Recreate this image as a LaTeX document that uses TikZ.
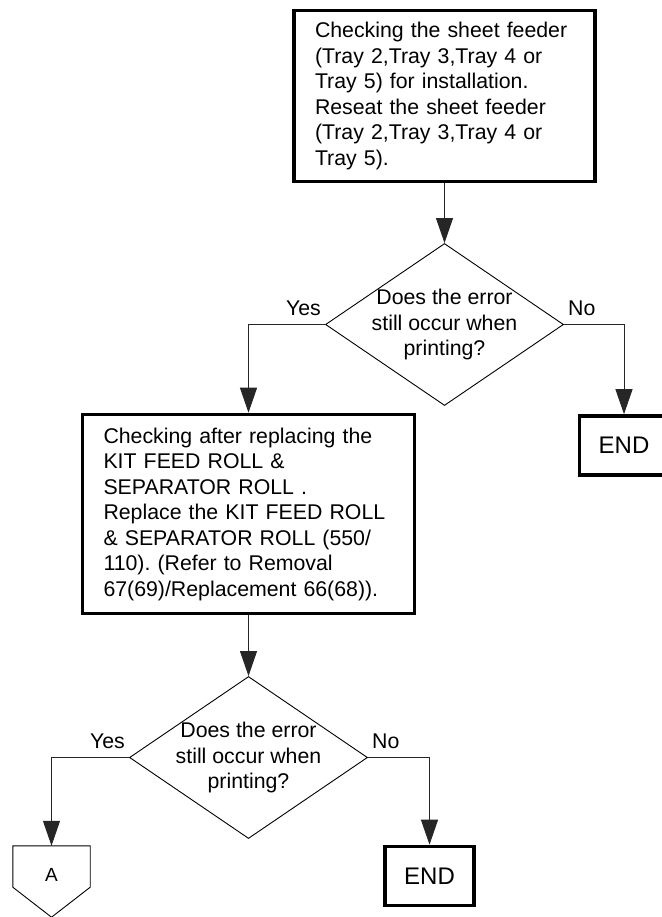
\documentclass[tikz,border=0pt]{standalone}
\usepackage{fontspec}
\setmainfont{Liberation Sans}
\usetikzlibrary{arrows.meta, shapes.geometric}
\frenchspacing
\definecolor{ink}{HTML}{000000}
\definecolor{wire}{HTML}{262626}
\tikzset{
  font=\fontsize{21.3}{25.5}\selectfont,
  procbox/.style={rectangle, draw=ink, line width=3.6pt, fill=white, align=left,
                  inner xsep=21pt, inner ysep=0pt},
  endbox/.style={rectangle, draw=ink, line width=3.6pt, fill=white, inner sep=0pt,
                 font=\fontsize{24}{28}\selectfont,
                 minimum width=89pt, minimum height=59pt},
  decision/.style={diamond, draw=ink, line width=0.9pt, inner sep=0pt,
                   minimum width=238pt, minimum height=162pt},
  asktext/.style={align=center, inner sep=0pt},
  offpage/.style={rectangle, inner sep=0pt, font=\fontsize{19}{22}\selectfont,
                  minimum width=77pt, minimum height=58pt},
  branch/.style={inner sep=0pt},
  flow/.style={-{Triangle[length=25pt, width=17pt]}, draw=wire, line width=1pt},
}

\begin{document}
\begin{tikzpicture}[x=1pt, y=-1pt]
\useasboundingbox (0,0) rectangle (661,917);

% --- checks and decisions ---
\node[procbox, text width=259pt, minimum height=171pt] (check1) at (444.5, 96)
  {Checking the sheet feeder\\ (Tray 2,Tray 3,Tray 4 or\\ Tray 5) for installation.\\
   Reseat the sheet feeder\\ (Tray 2,Tray 3,Tray 4 or\\ Tray 5).};

\node[decision] (ask1) at (444.5, 324.5) {};
\node[asktext]  (ask1txt) at (ask1) {Does the error\\ still occur when\\ printing?};

\node[procbox, text width=290pt, minimum height=199pt] (check2) at (248.5, 514)
  {Checking after replacing the\\ KIT FEED ROLL \&\\ SEPARATOR ROLL .\\
   Replace the KIT FEED ROLL\\ \& SEPARATOR ROLL (550/\\ 110). (Refer to Removal\\
   67(69)/Replacement 66(68)).};

\node[decision] (ask2) at (248.5, 757.5) {};
\node[asktext]  (ask2txt) at (ask2) {Does the error\\ still occur when\\ printing?};

% --- ends ---
\node[endbox] (end1) at (624, 445.5) {END};
\node[endbox] (end2) at (429.5, 876) {END};

\node[offpage] (offA) at (51.5, 875) {A};
\draw[line width=0.9pt, draw=ink] (offA.north west) -- (offA.north east)
  -- ([yshift=17pt]offA.south east) -- ([yshift=-13pt]offA.south)
  -- ([yshift=17pt]offA.south west) -- cycle;

% --- branch labels ---
\node[branch, anchor=base east] (yes1) at ([xshift=-4pt, yshift=9.5pt]ask1.west) {Yes};
\node[branch, anchor=base west] (no1)  at ([xshift=4pt, yshift=9.5pt]ask1.east)  {No};
\node[branch, anchor=base east] (yes2) at ([xshift=-4pt, yshift=9.5pt]ask2.west) {Yes};
\node[branch, anchor=base west] (no2)  at ([xshift=4pt, yshift=9.5pt]ask2.east)  {No};

% --- connectors ---
\draw[flow] (check1) -- (ask1);
\draw[flow] (ask1.west) -| (check2.north);
\draw[flow] (ask1.east) -| (end1.north);
\draw[flow] (check2) -- (ask2);
\draw[flow] (ask2.west) -| (offA.north);
\draw[flow] (ask2.east) -| (end2.north);

\end{tikzpicture}
\end{document}
